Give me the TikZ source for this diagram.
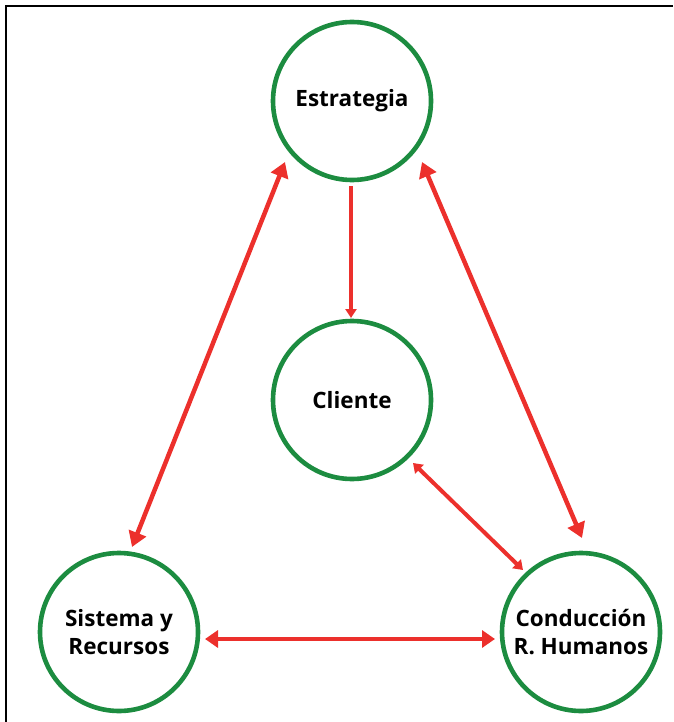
\documentclass[tikz,border=0pt]{standalone}
\usepackage{fontspec}
\setmainfont{Open Sans}
\usetikzlibrary{arrows.meta,calc}
\definecolor{ringgreen}{RGB}{28,140,64}
\definecolor{arrred}{RGB}{236,48,44}
\tikzset{
  ring/.style={circle, draw=ringgreen, line width=4.6pt, minimum size=158pt, inner sep=0pt, fill=white,
    align=center, font=\fontsize{22.5}{28.5}\selectfont\bfseries},
  bigarr/.style={draw=arrred, line width=4.5pt, {Triangle[length=15pt,width=18pt]}-{Triangle[length=15pt,width=18pt]}},
  midarr/.style={draw=arrred, line width=4.5pt, {Triangle[length=13pt,width=17pt]}-{Triangle[length=13pt,width=17pt]}},
  smallarr/.style={draw=arrred, line width=4pt, {Triangle[length=9pt,width=12pt]}-{Triangle[length=9pt,width=12pt]}},
  onearr/.style={draw=arrred, line width=4pt, -{Triangle[length=9pt,width=11pt]}},
  frame/.style={draw=black, line width=2pt}
}
\begin{document}
\begin{tikzpicture}[x=1pt,y=-1pt]
\useasboundingbox (0,0) rectangle (673,722);
\draw[frame] (6,722) -- (6,6) -- (673,6);

\node[ring] (E) at (352,101) {Estrategia};
\node[ring] (Cl) at (352,400) {Cliente};
\node[ring] (S) at (119,632) {Sistema y\\Recursos};
\node[ring] (C) at (581,632) {Conducción\\R. Humanos};

\coordinate (es1) at ($(E)+(-67,61)$);
\coordinate (es2) at ($(S)+(13,-85)$);
\coordinate (ec1) at ($(E)+(70,61)$);
\coordinate (ec2) at ($(C)+(1,-94)$);
\coordinate (ecl1) at ($(E)+(-1,85)$);
\coordinate (ecl2) at ($(Cl)+(-1,-82)$);
\coordinate (clc1) at ($(Cl)+(61,63)$);
\coordinate (clc2) at ($(C)+(-58,-62)$);
\coordinate (sc1) at ($(S)+(86,7)$);
\coordinate (sc2) at ($(C)+(-86,7)$);

\draw[bigarr] (es1) -- (es2);
\draw[bigarr] (ec1) -- (ec2);
\draw[onearr] (ecl1) -- (ecl2);
\draw[smallarr] (clc1) -- (clc2);
\draw[midarr] (sc1) -- (sc2);
\end{tikzpicture}
\end{document}
